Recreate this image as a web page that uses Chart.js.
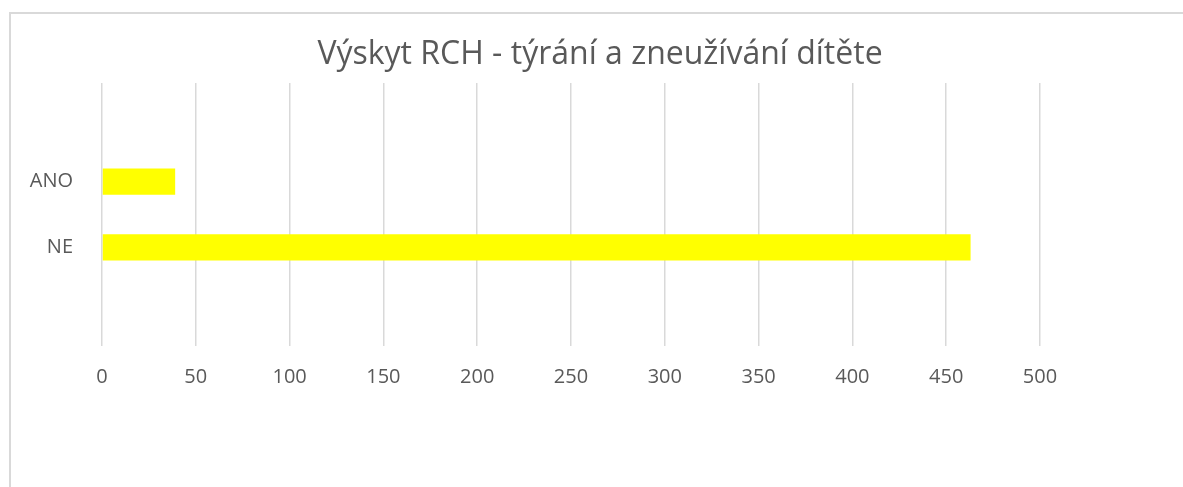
<!DOCTYPE html>
<html>
<head>
<meta charset="utf-8">
<script src="https://cdn.jsdelivr.net/npm/chart.js@4/dist/chart.umd.min.js"></script>
<style>
  html, body { margin: 0; padding: 0; background: #fff; overflow: hidden; }
  #frame { position: absolute; left: 9px; top: 12px; width: 1200px; height: 500px;
    border: 2px solid #d9d9d9; box-sizing: border-box; }
  #wrap { position: absolute; left: 0; top: 0; width: 1183px; height: 487px; }
</style>
</head>
<body>
<div id="frame"></div>
<div id="wrap"><canvas id="chart"></canvas></div>
<script>
// Excel leaves an empty slot above and below the two categories
const categories = ['', 'ANO', 'NE', ''];
const counts = [null, 39, 463, null];
const xTicks = [0, 50, 100, 150, 200, 250, 300, 350, 400, 450, 500];
const chartTitle = 'Výskyt RCH - týrání a zneužívání dítěte';

const FONT = '"Open Sans", "Liberation Sans", sans-serif';
const TXT = '#595959';

// title is centred on the whole chart frame, not on the plot area
const frameTitle = {
  id: 'frameTitle',
  afterDraw(chart) {
    const ctx = chart.ctx;
    ctx.save();
    ctx.fillStyle = TXT;
    ctx.font = '32px ' + FONT;
    ctx.textAlign = 'center';
    ctx.textBaseline = 'alphabetic';
    ctx.fillText(chartTitle, 600, 64);
    ctx.restore();
  }
};

new Chart(document.getElementById('chart'), {
  type: 'bar',
  data: {
    labels: categories,
    datasets: [{
      data: counts,
      backgroundColor: '#ffff00',
      borderWidth: 0,
      categoryPercentage: 1,
      barPercentage: 0.4
    }]
  },
  options: {
    indexAxis: 'y',
    responsive: true,
    maintainAspectRatio: false,
    animation: false,
    layout: { padding: { left: 0, right: 143, top: 83, bottom: 0 } },
    plugins: {
      legend: { display: false },
      tooltip: { enabled: false },
      title: { display: false }
    },
    scales: {
      x: {
        min: 0, max: 500,
        afterBuildTicks: s => { s.ticks = xTicks.map(v => ({ value: v })); },
        afterFit: s => { s.height = 141; },
        grid: { color: '#d9d9d9', lineWidth: 1.5, drawTicks: false },
        border: { display: false },
        ticks: { color: TXT, font: { family: FONT, size: 20 }, padding: 19 }
      },
      y: {
        afterFit: s => { s.width = 102; },
        grid: { display: false, drawTicks: false },
        border: { display: false },
        ticks: { color: TXT, font: { family: FONT, size: 20 }, padding: 29 }
      }
    }
  },
  plugins: [frameTitle]
});
</script>
</body>
</html>
